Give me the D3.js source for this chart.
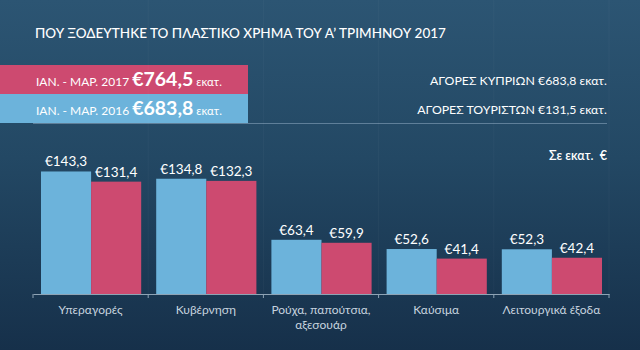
<!DOCTYPE html>
<html>
<head>
<meta charset="utf-8">
<script src="https://cdn.jsdelivr.net/npm/d3@7"></script>
<style>
  html, body { margin: 0; padding: 0; background: #1b3a55; }
  svg { display: block; }
  text { font-family: Lato, "Open Sans", sans-serif; }
</style>
</head>
<body>
<svg id="chart" width="640" height="350"></svg>
<script>
// Card spending by category, Q1 (million €)
const categories = ["Υπεραγορές", "Κυβέρνηση", "Ρούχα, παπούτσια, αξεσουάρ", "Καύσιμα", "Λειτουργικά έξοδα"];
const categoryLines = [["Υπεραγορές"], ["Κυβέρνηση"], ["Ρούχα, παπούτσια,", "αξεσουάρ"], ["Καύσιμα"], ["Λειτουργικά έξοδα"]];
const seriesKeys = ["blue", "pink"];
const valuesBlue = [143.3, 134.8, 63.4, 52.6, 52.3];
const valuesPink = [131.4, 132.3, 59.9, 41.4, 42.4];

const title = "ΠΟΥ ΞΟΔΕΥΤΗΚΕ ΤΟ ΠΛΑΣΤΙΚΟ ΧΡΗΜΑ ΤΟΥ Α’ ΤΡΙΜΗΝΟΥ 2017";
const legendRows = [
  { label: "ΙΑΝ. - ΜΑΡ. 2017 ", amount: "€764,5", unit: " εκατ.", key: "pink" },
  { label: "ΙΑΝ. - ΜΑΡ. 2016 ", amount: "€683,8", unit: " εκατ.", key: "blue" }
];
const sideNotes = ["ΑΓΟΡΕΣ ΚΥΠΡΙΩΝ €683,8 εκατ.", "ΑΓΟΡΕΣ ΤΟΥΡΙΣΤΩΝ €131,5 εκατ."];
const unitNote = "Σε εκατ.  €";

const colors = { blue: "#6cb3db", pink: "#cd4a70" };
const fmt = v => "€" + v.toFixed(1).replace(".", ",");

const svg = d3.select("#chart");
const W = 640, H = 350;

// background gradient
const defs = svg.append("defs");
const grad = defs.append("linearGradient").attr("id", "bg").attr("x1", 0).attr("y1", 0).attr("x2", 0).attr("y2", 1);
grad.append("stop").attr("offset", "0%").attr("stop-color", "#2c5573");
grad.append("stop").attr("offset", "45%").attr("stop-color", "#234864");
grad.append("stop").attr("offset", "100%").attr("stop-color", "#16304a");
svg.append("rect").attr("width", W).attr("height", H).attr("fill", "url(#bg)");

// title
svg.append("text").attr("x", 35).attr("y", 38)
  .attr("fill", "#ffffff").attr("font-size", 13.5).attr("font-weight", 500)
  .text(title);

// legend bands
const legY = d3.scaleBand().domain(legendRows.map(d => d.key)).range([65, 123]).padding(0);
const legRow = svg.selectAll("g.leg").data(legendRows).join("g").attr("class", "leg");
legRow.append("rect").attr("x", 0).attr("y", d => legY(d.key)).attr("width", 248)
  .attr("height", legY.bandwidth()).attr("fill", d => colors[d.key]);
const legText = legRow.append("text").attr("x", 36).attr("y", d => legY(d.key) + legY.bandwidth() / 2 + 6.5)
  .attr("fill", "#ffffff");
legText.append("tspan").attr("font-size", 12).text(d => d.label);
legText.append("tspan").attr("font-size", 19.5).attr("font-weight", 700).text(d => d.amount);
legText.append("tspan").attr("font-size", 11.5).text(d => d.unit);

svg.selectAll("text.note").data(sideNotes).join("text").attr("class", "note")
  .attr("x", 607).attr("y", (d, i) => legY(legendRows[i].key) + legY.bandwidth() / 2 + 5)
  .attr("text-anchor", "end").attr("fill", "#ffffff").attr("font-size", 12.3)
  .text(d => d);

svg.append("line").attr("x1", 33).attr("x2", 607).attr("y1", 123.5).attr("y2", 123.5)
  .attr("stroke", "#5f7f99").attr("stroke-width", 1);

// chart scales
const x0 = d3.scaleBand().domain(categories).range([33, 609]).paddingInner(0).paddingOuter(0);
const x1 = d3.scaleBand().domain(seriesKeys).range([8, x0.bandwidth() - 7]).padding(0);
const y = d3.scaleLinear().domain([0, 160]).range([294, 157.2]);

// faint vertical separators
svg.selectAll("line.sep").data(categories.slice(1).concat(["end"])).join("line").attr("class", "sep")
  .attr("x1", d => d === "end" ? 609 : x0(d)).attr("x2", d => d === "end" ? 609 : x0(d))
  .attr("y1", 0).attr("y2", 294)
  .attr("stroke", "#ffffff").attr("stroke-opacity", 0.03);

svg.append("text").attr("x", 607).attr("y", 160).attr("text-anchor", "end")
  .attr("fill", "#ffffff").attr("font-size", 12.5).attr("font-weight", 600)
  .attr("xml:space", "preserve").text(unitNote);

const rows = categories.map((c, i) => ({ cat: c, blue: valuesBlue[i], pink: valuesPink[i] }));
const groups = svg.selectAll("g.cat").data(rows).join("g").attr("class", "cat")
  .attr("transform", d => `translate(${x0(d.cat)},0)`);

groups.selectAll("rect").data(d => seriesKeys.map(k => ({ k, v: d[k] }))).join("rect")
  .attr("x", d => x1(d.k)).attr("width", x1.bandwidth())
  .attr("y", d => y(d.v)).attr("height", d => y(0) - y(d.v))
  .attr("fill", d => colors[d.k]);

groups.selectAll("text.val").data(d => seriesKeys.map(k => ({ k, v: d[k] }))).join("text")
  .attr("class", "val")
  .attr("x", d => x1(d.k) + x1.bandwidth() / 2).attr("y", d => y(d.v) - 5)
  .attr("text-anchor", "middle").attr("fill", "#ffffff").attr("font-size", 13.5)
  .text(d => fmt(d.v));

// x axis
const axis = d3.axisBottom(x0).tickSize(0).tickFormat("");
const gx = svg.append("g").attr("transform", "translate(0,294)").call(axis);
gx.select(".domain").attr("stroke", "#8ea3b5").attr("stroke-width", 1);
svg.selectAll("line.tk").data(categories.concat(["end"])).join("line").attr("class", "tk")
  .attr("x1", d => d === "end" ? 609 : x0(d)).attr("x2", d => d === "end" ? 609 : x0(d))
  .attr("y1", 294).attr("y2", 298).attr("stroke", "#8ea3b5");

const catText = svg.selectAll("text.cat").data(categories).join("text").attr("class", "cat")
  .attr("x", d => x0(d) + x0.bandwidth() / 2).attr("y", 314)
  .attr("text-anchor", "middle").attr("fill", "#c6d3df").attr("font-size", 12);
catText.selectAll("tspan").data((d, i) => categoryLines[i]).join("tspan")
  .attr("x", function () { return this.parentNode.getAttribute("x"); })
  .attr("dy", (d, i) => i === 0 ? 0 : 14.5)
  .text(d => d);
</script>
</body>
</html>
